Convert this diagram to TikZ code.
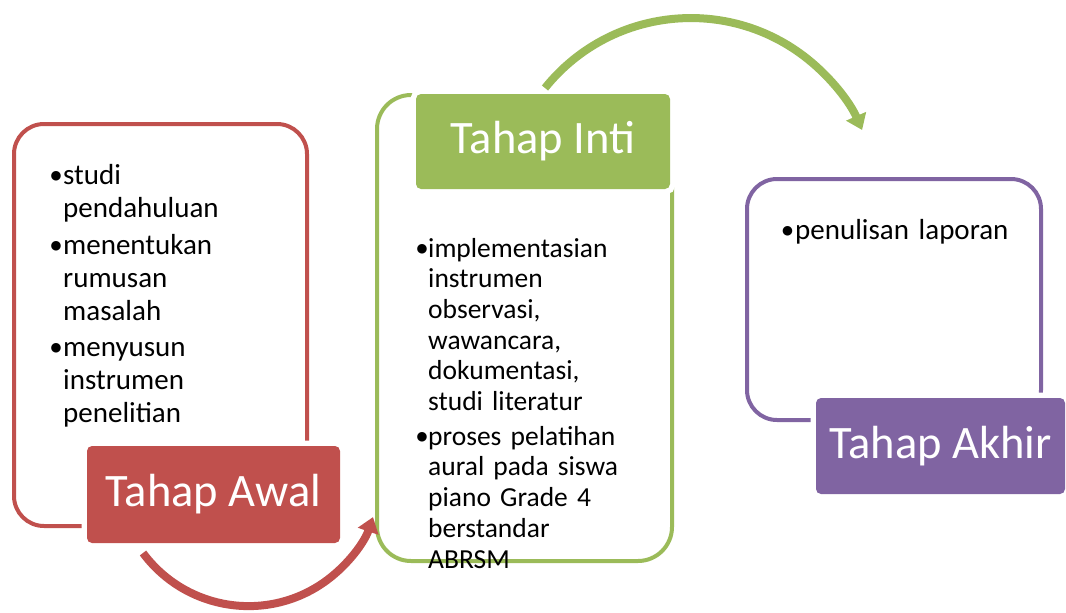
\documentclass[tikz,border=0pt]{standalone}
\usepackage{fontspec}
\setmainfont{Carlito}
\newfontfamily\symfont{DejaVu Sans}
\usetikzlibrary{arrows.meta}
\definecolor{cred}{HTML}{C0504D}
\definecolor{cgreen}{HTML}{9BBB59}
\definecolor{cpurple}{HTML}{8064A2}
\newcommand\nl{\hfil\break}
\newcommand\bul{\raisebox{4.6pt}{\symfont\fontsize{12.5}{12.5}\selectfont ●}}
\newcommand\bitem[2][12pt]{\hangindent=#1\hangafter=1\noindent\makebox[#1][l]{\hspace{-0.5pt}\bul}#2\par}
\begin{document}
\begin{tikzpicture}[x=1pt,y=-1pt,
  outline/.style={draw=#1, line width=4pt, rounded corners=30pt, inner sep=0pt},
  titlebox/.style={fill=#1, rounded corners=5pt, text=white,
    font=\fontsize{46.5}{50}\selectfont, inner sep=0pt,
    preaction={draw=white, line width=11pt}},
  bullets/.style={anchor=base west, inner sep=0pt, text width=260pt, text=black},
  flow/.style={draw=#1, line width=8pt, -{Triangle[length=15pt,width=21pt]}}
]
\useasboundingbox (0,0) rectangle (1066,613);
\fill[white] (0,0) rectangle (1066,613);
% outline boxes
\node[outline=cred, minimum width=293pt, minimum height=402pt] (redbox) at (160.5,325) {};
\node[outline=cgreen, rounded corners=34pt, minimum width=295pt, minimum height=466pt] (greenbox) at (524.5,328) {};
\node[outline=cpurple, minimum width=294pt, minimum height=241pt] (purplebox) at (894,299.5) {};
% title boxes
\node[titlebox=cred, minimum width=253pt, minimum height=97pt] (awal) at (213.5,494.5) {Tahap Awal};
\node[titlebox=cgreen, minimum width=254pt, minimum height=95pt] (inti) at (543,141.5) {Tahap Inti};
\node[titlebox=cpurple, minimum width=249pt, minimum height=96pt] (akhir) at (940.5,446) {Tahap Akhir};
% texts
\node[bullets, font=\fontsize{29}{33}\selectfont] (redtext) at (51,184.5) {%
\setlength\parskip{3.5pt}%
\bitem{studi\nl pendahuluan}
\bitem{menentukan\nl rumusan\nl masalah}
\bitem{menyusun\nl instrumen\nl penelitian}};
\node[bullets, font=\fontsize{27.5}{30.7}\selectfont] (greentext) at (417,257) {%
\setlength\parskip{4pt}%
\bitem[11pt]{implementasian\nl instrumen\nl observasi,\nl wawancara,\nl dokumentasi,\nl studi literatur}
\bitem[11pt]{proses pelatihan\nl aural pada siswa\nl piano Grade 4\nl berstandar\nl ABRSM}};
\node[bullets, font=\fontsize{29}{33}\selectfont] (purpletext) at (782.5,239) {%
\bitem[12.5pt]{penulisan laporan}};
% arrows
\coordinate (r1) at (143,553);
\coordinate (g1) at (545,88);
\draw[flow=cred] (r1) arc[start angle=143.4, end angle=18.85, radius=131.5];
\draw[flow=cgreen] (g1) arc[start angle=-141.25, end angle=-23.66, radius=187];
\end{tikzpicture}
\end{document}
